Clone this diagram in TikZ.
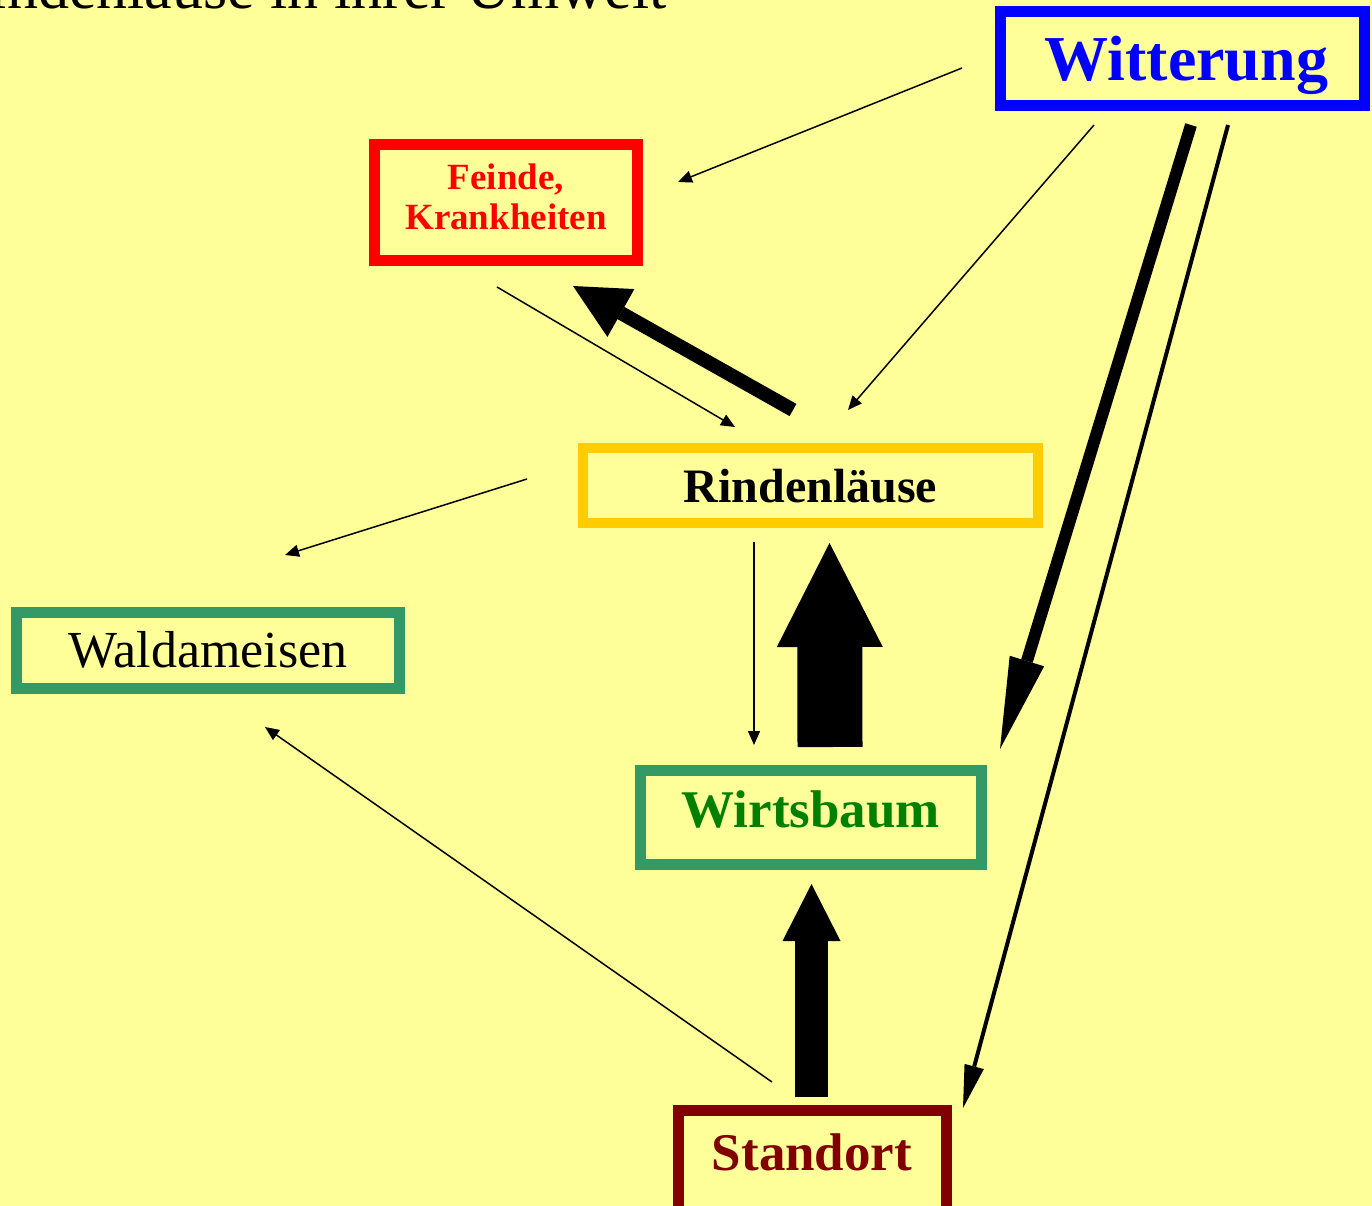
\documentclass[tikz,border=0pt]{standalone}
\usepackage{fontspec}
\setmainfont{Liberation Serif}
\usetikzlibrary{arrows.meta, calc}
\definecolor{bgyellow}{HTML}{FFFF99}
\definecolor{wittblue}{HTML}{0000FF}
\definecolor{feindred}{HTML}{FF0000}
\definecolor{laushgold}{HTML}{FFCC00}
\definecolor{boxgreen}{HTML}{339966}
\definecolor{baumgreen}{HTML}{008000}
\definecolor{ortred}{HTML}{800000}
\tikzset{>={Triangle[length=14pt,width=12pt]}}

\begin{document}
\begin{tikzpicture}[x=1pt, y=-1pt,
  box/.style={draw, rectangle, line width=11pt, inner sep=0pt, outer sep=0pt},
  linkarrow/.style={->, line width=1.5pt}]
  \fill[bgyellow] (0,0) rectangle (1372,1206);
  \useasboundingbox (0,0) rectangle (1372,1206);
  % title, runs off the page
  \node[anchor=base east, font=\fontsize{62}{70}\selectfont] (title) at (670,9) {Rindenläuse in ihrer Umwelt};
  % the boxes
  \node[box, draw=wittblue, text=wittblue, minimum width=364pt, minimum height=94pt,
    text height=45pt, text depth=0pt, font=\bfseries\fontsize{64}{70}\selectfont] (witt) at (1182.5,58.5) {\hspace*{8pt}Witterung};
  \node[box, draw=feindred, text=feindred, minimum width=263pt, minimum height=116pt,
    align=center, text depth=12pt, font=\bfseries\fontsize{37}{40}\selectfont] (feind) at (506,202.5) {Feinde,\\Krankheiten};
  \node[box, line width=10pt, draw=laushgold, minimum width=455pt, minimum height=75pt,
    text height=33pt, text depth=0pt, font=\bfseries\fontsize{48}{52}\selectfont] (rind) at (810.5,485.5) {Rindenläuse};
  \node[box, draw=boxgreen, minimum width=383pt, minimum height=76pt,
    text height=33pt, text depth=0pt, font=\fontsize{52}{56}\selectfont] (wald) at (208,650.5) {Waldameisen};
  \node[box, draw=boxgreen, text=baumgreen, minimum width=341pt, minimum height=94pt,
    text height=20pt, text depth=0pt, font=\bfseries\fontsize{53}{58}\selectfont] (wirt) at (811,817) {Wirtsbaum};
  \node[box, draw=ortred, text=ortred, minimum width=268pt, minimum height=110pt,
    text height=10pt, text depth=0pt, font=\bfseries\fontsize{53}{58}\selectfont] (stand) at (812,1165) {Standort};
  % thin links
  \draw[linkarrow] ($(witt.west)+(-38.5,9.5)$) -- ($(feind.east)+(40.5,-20.5)$);
  \draw[linkarrow] ($(witt.south)+(-88.5,19.5)$) -- ($(rind.north)+(37.5,-38)$);
  \draw[linkarrow] ($(feind.south)+(-9,26.5)$) -- ($(rind.north)+(-75.5,-21)$);
  \draw[linkarrow] ($(rind.west)+(-56,-6.5)$) -- ($(wald.north)+(77,-57.5)$);
  \draw[linkarrow] ($(rind.south)+(-56.5,19)$) -- ($(wirt.north)+(-57,-25)$);
  \draw[linkarrow] ($(stand.north)+(-40,-28)$) -- ($(wald.south)+(57,38.5)$);
  % heavy links
  \draw[-{Triangle[length=55pt,width=55pt,line width=0pt]}, line width=14pt]
    ($(rind.north)+(-17.5,-38)$) -- ($(feind.south)+(67,25.5)$);
  \draw[-{Triangle[length=92pt,width=36pt,line width=0pt]}, line width=12pt]
    ($(witt.south)+(8.5,19.5)$) -- ($(wirt.east)+(18.5,-68)$);
  \draw[-{Triangle[length=43pt,width=20pt,line width=0pt]}, line width=4pt]
    ($(witt.south)+(45.5,19.5)$) -- ($(stand.east)+(17,-57)$);
  % block arrows
  \draw[-{Triangle[length=104pt,width=106pt,line width=0pt]}, line width=65pt]
    ($(wirt.north)+(19,-23)$) -- ($(rind.south)+(19,20)$);
  \draw[-{Triangle[length=57pt,width=58pt,line width=0pt]}, line width=33pt]
    ($(stand.north)+(-0.5,-13)$) -- ($(wirt.south)+(0.5,20)$);
\end{tikzpicture}
\end{document}
